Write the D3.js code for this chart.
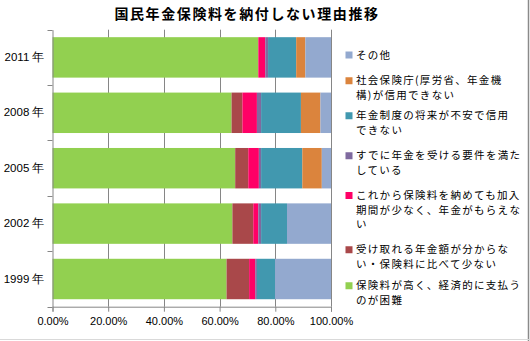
<!DOCTYPE html>
<html><head><meta charset="utf-8">
<script src="https://cdn.jsdelivr.net/npm/d3@7"></script>
<style>
html,body{margin:0;padding:0;background:#fff;}
svg{display:block;font-family:"Noto Sans CJK JP","Noto Sans",sans-serif;}
</style></head>
<body>
<svg id="c" width="530" height="341"></svg>
<script>
const title = "国民年金保険料を納付しない理由推移";
const years = ["2011 年","2008 年","2005 年","2002 年","1999 年"];
const seriesNames = [
  "保険料が高く、経済的に支払うのが困難",
  "受け取れる年金額が分からない・保険料に比べて少ない",
  "これから保険料を納めても加入期間が少なく、年金がもらえない",
  "すでに年金を受ける要件を満たしている",
  "年金制度の将来が不安で信用できない",
  "社会保険庁(厚労省、年金機構)が信用できない",
  "その他"
];
const legendLines = [
  ["保険料が高く、経済的に支払う","のが困難"],
  ["受け取れる年金額が分からな","い・保険料に比べて少ない"],
  ["これから保険料を納めても加入","期間が少なく、年金がもらえな","い"],
  ["すでに年金を受ける要件を満た","している"],
  ["年金制度の将来が不安で信用","できない"],
  ["社会保険庁(厚労省、年金機","構)が信用できない"],
  ["その他"]
];
const colors = ["#92D050","#A9484A","#FF0066","#7F6A9F","#4198AF","#DB843D","#93A9CF"];
// values per series (%), in order of years [2011,2008,2005,2002,1999]
const s0 = [73.9, 64.3, 65.6, 64.6, 62.5];
const s1 = [0.0, 3.9, 4.7, 7.5, 8.1];
const s2 = [2.5, 5.2, 3.8, 1.8, 2.2];
const s3 = [1.0, 1.5, 0.8, 1.0, 0.6];
const s4 = [10.1, 14.3, 14.8, 9.3, 6.5];
const s5 = [3.3, 7.0, 7.0, 0.0, 0.0];
const s6 = [9.2, 3.8, 3.3, 15.8, 20.1];
const xTicks = [0,20,40,60,80,100];

const seriesVals = [s0,s1,s2,s3,s4,s5,s6];
const keys = seriesNames;
const table = years.map((y,i)=>{const o={year:y}; keys.forEach((k,j)=>o[k]=seriesVals[j][i]/100); return o;});
const stacked = d3.stack().keys(keys)(table);

const svg = d3.select("#c");
const L=52.5, R=331, T=29.7, B=306.7;
const x = d3.scaleLinear().domain([0,1]).range([L,R]);
const y = d3.scaleBand().domain(years).range([T,B]).paddingInner(0.27).paddingOuter(0.135);

// border
svg.append("line").attr("x1",528.5).attr("x2",528.5).attr("y1",0).attr("y2",341).attr("stroke","#8a8a8a").attr("stroke-width",1.5);
svg.append("line").attr("x1",0).attr("x2",530).attr("y1",339.5).attr("y2",339.5).attr("stroke","#d9d9d9");

// title
svg.append("text").attr("x",247).attr("y",19).attr("text-anchor","middle")
  .attr("font-size",14).attr("font-weight","bold").attr("letter-spacing",1.6).attr("fill","#000").text(title);

// gridlines
svg.append("g").selectAll("line").data(xTicks.slice(1)).join("line")
  .attr("x1",d=>Math.round(x(d/100))+0.5).attr("x2",d=>Math.round(x(d/100))+0.5)
  .attr("y1",T).attr("y2",B).attr("stroke","#868686").attr("stroke-width",1);

// bars
svg.append("g").selectAll("g").data(stacked).join("g").attr("fill",(d,i)=>colors[i])
  .selectAll("rect").data(d=>d).join("rect")
  .attr("x",d=>x(d[0])).attr("width",d=>Math.max(0,x(d[1])-x(d[0])))
  .attr("y",d=>y(d.data.year)).attr("height",y.bandwidth());

// x axis
const xa = svg.append("g").attr("transform",`translate(0,${B})`)
  .call(d3.axisBottom(x).tickValues(xTicks.map(v=>v/100)).tickFormat(d=>(d*100).toFixed(2)+"%").tickSize(5).tickPadding(6));
xa.select(".domain").attr("stroke","#868686");
xa.selectAll(".tick line").attr("stroke","#868686");
xa.selectAll("text").attr("font-size",11).attr("fill","#000").attr("font-family","Liberation Sans, Arial, sans-serif");

// y axis
const ya = svg.append("g").attr("transform",`translate(${L},0)`)
  .call(d3.axisLeft(y).tickSize(0).tickPadding(8));
ya.select(".domain").attr("stroke","#868686");
ya.selectAll("text").attr("font-size",11.5).attr("fill","#000");
// band boundary ticks
const bounds = years.map(yr=>y(yr)-y.step()*y.paddingInner()/2).concat([B]);
svg.append("g").selectAll("line").data(bounds).join("line")
  .attr("x1",L-5).attr("x2",L).attr("y1",d=>Math.round(d)+0.5).attr("y2",d=>Math.round(d)+0.5)
  .attr("stroke","#868686");

// legend (reverse order: その他 on top)
const legendCenters = [293, 257, 210, 163, 123, 88, 55];
const lh = 14.5;
const lg = svg.append("g");
seriesNames.forEach((n,i)=>{
  const g = lg.append("g");
  const nl = legendLines[i].length;
  const top = legendCenters[i] - (nl-1)*lh/2;
  g.append("rect").attr("x",345.5).attr("y",top-3.5).attr("width",7).attr("height",7).attr("fill",colors[i]);
  legendLines[i].forEach((ln,j)=>{
    g.append("text").attr("x",356).attr("y",top+j*lh).attr("dy","0.35em")
      .attr("font-size",10.5).attr("letter-spacing",1.3).attr("fill","#000").text(ln);
  });
});
</script>
</body></html>
